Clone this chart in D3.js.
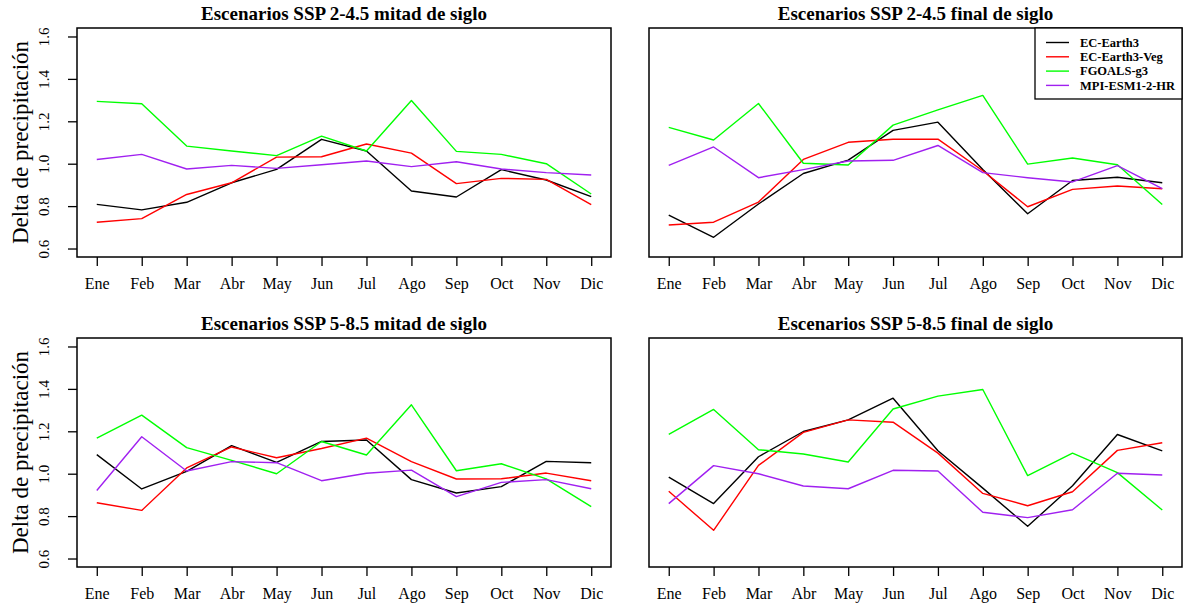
<!DOCTYPE html>
<html lang="es">
<head>
<meta charset="UTF-8">
<title>Delta de precipitación</title>
<script src="https://d3js.org/d3.v7.min.js"></script>
<style>
  body { margin: 0; background: #fff; }
  svg, svg text { font-family: 'Liberation Serif', 'Times New Roman', serif !important; }
</style>
</head>
<body>
<div id="chart"></div>
<script>
// months and models
const months = ["Ene", "Feb", "Mar", "Abr", "May", "Jun", "Jul", "Ago", "Sep", "Oct", "Nov", "Dic"];
const models = ["EC-Earth3", "EC-Earth3-Veg", "FGOALS-g3", "MPI-ESM1-2-HR"];
const modelColors = ["#000000", "#ff0000", "#00ff00", "#a020f0"];
const yTicks = [0.6, 0.8, 1.0, 1.2, 1.4, 1.6];

// delta values, one row per model (same order as models)
const ssp245Mid = [
  [0.808, 0.782, 0.818, 0.910, 0.973, 1.115, 1.060, 0.871, 0.843, 0.972, 0.923, 0.845],
  [0.724, 0.741, 0.855, 0.910, 1.031, 1.033, 1.093, 1.050, 0.906, 0.931, 0.926, 0.807],
  [1.294, 1.283, 1.083, 1.060, 1.038, 1.130, 1.060, 1.298, 1.058, 1.044, 1.000, 0.857],
  [1.020, 1.044, 0.975, 0.992, 0.978, 0.995, 1.013, 0.986, 1.009, 0.975, 0.958, 0.947]
];
const ssp245End = [
  [0.758, 0.653, 0.810, 0.954, 1.017, 1.157, 1.196, 0.973, 0.764, 0.921, 0.936, 0.910],
  [0.711, 0.724, 0.819, 1.020, 1.101, 1.115, 1.116, 0.967, 0.797, 0.879, 0.895, 0.882],
  [1.171, 1.112, 1.284, 1.002, 0.994, 1.182, 1.254, 1.322, 0.998, 1.027, 0.995, 0.808],
  [0.992, 1.079, 0.934, 0.972, 1.013, 1.016, 1.086, 0.958, 0.934, 0.914, 0.991, 0.882]
];
const ssp585Mid = [
  [1.090, 0.928, 1.011, 1.132, 1.053, 1.152, 1.159, 0.972, 0.909, 0.939, 1.058, 1.052],
  [0.863, 0.827, 1.027, 1.126, 1.075, 1.119, 1.168, 1.057, 0.975, 0.976, 1.003, 0.967],
  [1.168, 1.276, 1.123, 1.063, 1.000, 1.152, 1.088, 1.325, 1.014, 1.047, 0.976, 0.845],
  [0.921, 1.174, 1.013, 1.057, 1.052, 0.967, 1.002, 1.017, 0.892, 0.959, 0.972, 0.929]
];
const ssp585End = [
  [0.984, 0.859, 1.080, 1.199, 1.254, 1.356, 1.108, 0.932, 0.752, 0.943, 1.185, 1.108],
  [0.917, 0.733, 1.039, 1.195, 1.254, 1.243, 1.097, 0.907, 0.849, 0.915, 1.110, 1.146],
  [1.185, 1.303, 1.113, 1.093, 1.055, 1.305, 1.366, 1.397, 0.991, 1.097, 1.005, 0.829],
  [0.859, 1.038, 1.000, 0.942, 0.929, 1.016, 1.013, 0.818, 0.793, 0.830, 1.002, 0.994]
];
const titles = [
  "Escenarios SSP 2-4.5 mitad de siglo",
  "Escenarios SSP 2-4.5 final de siglo",
  "Escenarios SSP 5-8.5 mitad de siglo",
  "Escenarios SSP 5-8.5 final de siglo"
];

const width = 1183, height = 608;

// panel boxes (plot regions)
const panels = [
  { title: titles[0], data: ssp245Mid, x0: 77, x1: 611, y0: 28, y1: 257, yAxis: true, legend: false },
  { title: titles[1], data: ssp245End, x0: 649, x1: 1182, y0: 28, y1: 257, yAxis: false, legend: true },
  { title: titles[2], data: ssp585Mid, x0: 77, x1: 611, y0: 338, y1: 567, yAxis: true, legend: false },
  { title: titles[3], data: ssp585End, x0: 649, x1: 1182, y0: 338, y1: 567, yAxis: false, legend: false }
];

const svg = d3.select("#chart").append("svg")
  .attr("width", width)
  .attr("height", height);

svg.append("rect").attr("width", width).attr("height", height).attr("fill", "#fff");

panels.forEach(p => {
  // R style: 4% padding on both axes
  const x = d3.scaleLinear().domain([0.56, 12.44]).range([p.x0, p.x1]);
  const y = d3.scaleLinear().domain([0.56, 1.64]).range([p.y1, p.y0]);
  const g = svg.append("g");

  // title
  g.append("text")
    .attr("x", (p.x0 + p.x1) / 2)
    .attr("y", p.y0 - 8)
    .attr("text-anchor", "middle")
    .attr("font-weight", "bold")
    .attr("font-size", 19)
    .text(p.title);

  // x axis
  const xAxis = d3.axisBottom(x)
    .tickValues(d3.range(1, 13))
    .tickFormat(i => months[i - 1])
    .tickSize(9)
    .tickPadding(12);
  const gx = g.append("g").attr("transform", `translate(0,${p.y1})`).call(xAxis);
  gx.attr("font-family", null);
  gx.select(".domain").remove();
  gx.selectAll("line").attr("stroke", "#000").attr("stroke-width", 1.3);
  gx.selectAll("text")
    .attr("font-size", 16)
    .attr("fill", "#000");

  // y axis, labels rotated like R's default las = 0
  if (p.yAxis) {
    const yAxis = d3.axisLeft(y)
      .tickValues(yTicks)
      .tickFormat(d3.format(".1f"))
      .tickSize(9);
    const gy = g.append("g").attr("transform", `translate(${p.x0},0)`).call(yAxis);
    gy.attr("font-family", null);
    gy.select(".domain").remove();
    gy.selectAll("line").attr("stroke", "#000").attr("stroke-width", 1.3);
    gy.selectAll("text")
      .attr("font-size", 15)
      .attr("fill", "#000")
      .attr("text-anchor", "middle")
      .attr("x", 0)
      .attr("y", 0)
      .attr("dy", "0.35em")
      .attr("transform", "translate(-33,0) rotate(-90)");

    g.append("text")
      .attr("transform", `translate(28,${(p.y0 + p.y1) / 2}) rotate(-90)`)
      .attr("text-anchor", "middle")
      .attr("font-size", 23)
      .text("Delta de precipitación");
  }

  // series
  const line = d3.line()
    .x((d, i) => x(i + 1))
    .y(d => y(d));
  p.data.forEach((vals, k) => {
    g.append("path")
      .datum(vals)
      .attr("d", line)
      .attr("fill", "none")
      .attr("stroke", modelColors[k])
      .attr("stroke-width", 1.4)
      .attr("stroke-linejoin", "round");
  });

  // box
  g.append("rect")
    .attr("x", p.x0).attr("y", p.y0)
    .attr("width", p.x1 - p.x0).attr("height", p.y1 - p.y0)
    .attr("fill", "none").attr("stroke", "#000").attr("stroke-width", 1.5);

  // legend
  if (p.legend) {
    const lx0 = 1035, ly0 = p.y0, lw = p.x1 - lx0, lh = 71;
    const lg = g.append("g");
    lg.append("rect")
      .attr("x", lx0).attr("y", ly0).attr("width", lw).attr("height", lh)
      .attr("fill", "#fff").attr("stroke", "#000").attr("stroke-width", 1.3);
    models.forEach((m, k) => {
      const yy = ly0 + 14.5 + k * 14.3;
      lg.append("line")
        .attr("x1", lx0 + 11).attr("x2", lx0 + 34)
        .attr("y1", yy).attr("y2", yy)
        .attr("stroke", modelColors[k]).attr("stroke-width", 1.4);
      lg.append("text")
        .attr("x", lx0 + 45).attr("y", yy)
        .attr("dy", "0.35em")
        .attr("font-weight", "bold")
        .attr("font-size", 12.5)
        .text(m);
    });
  }
});
</script>
</body>
</html>
